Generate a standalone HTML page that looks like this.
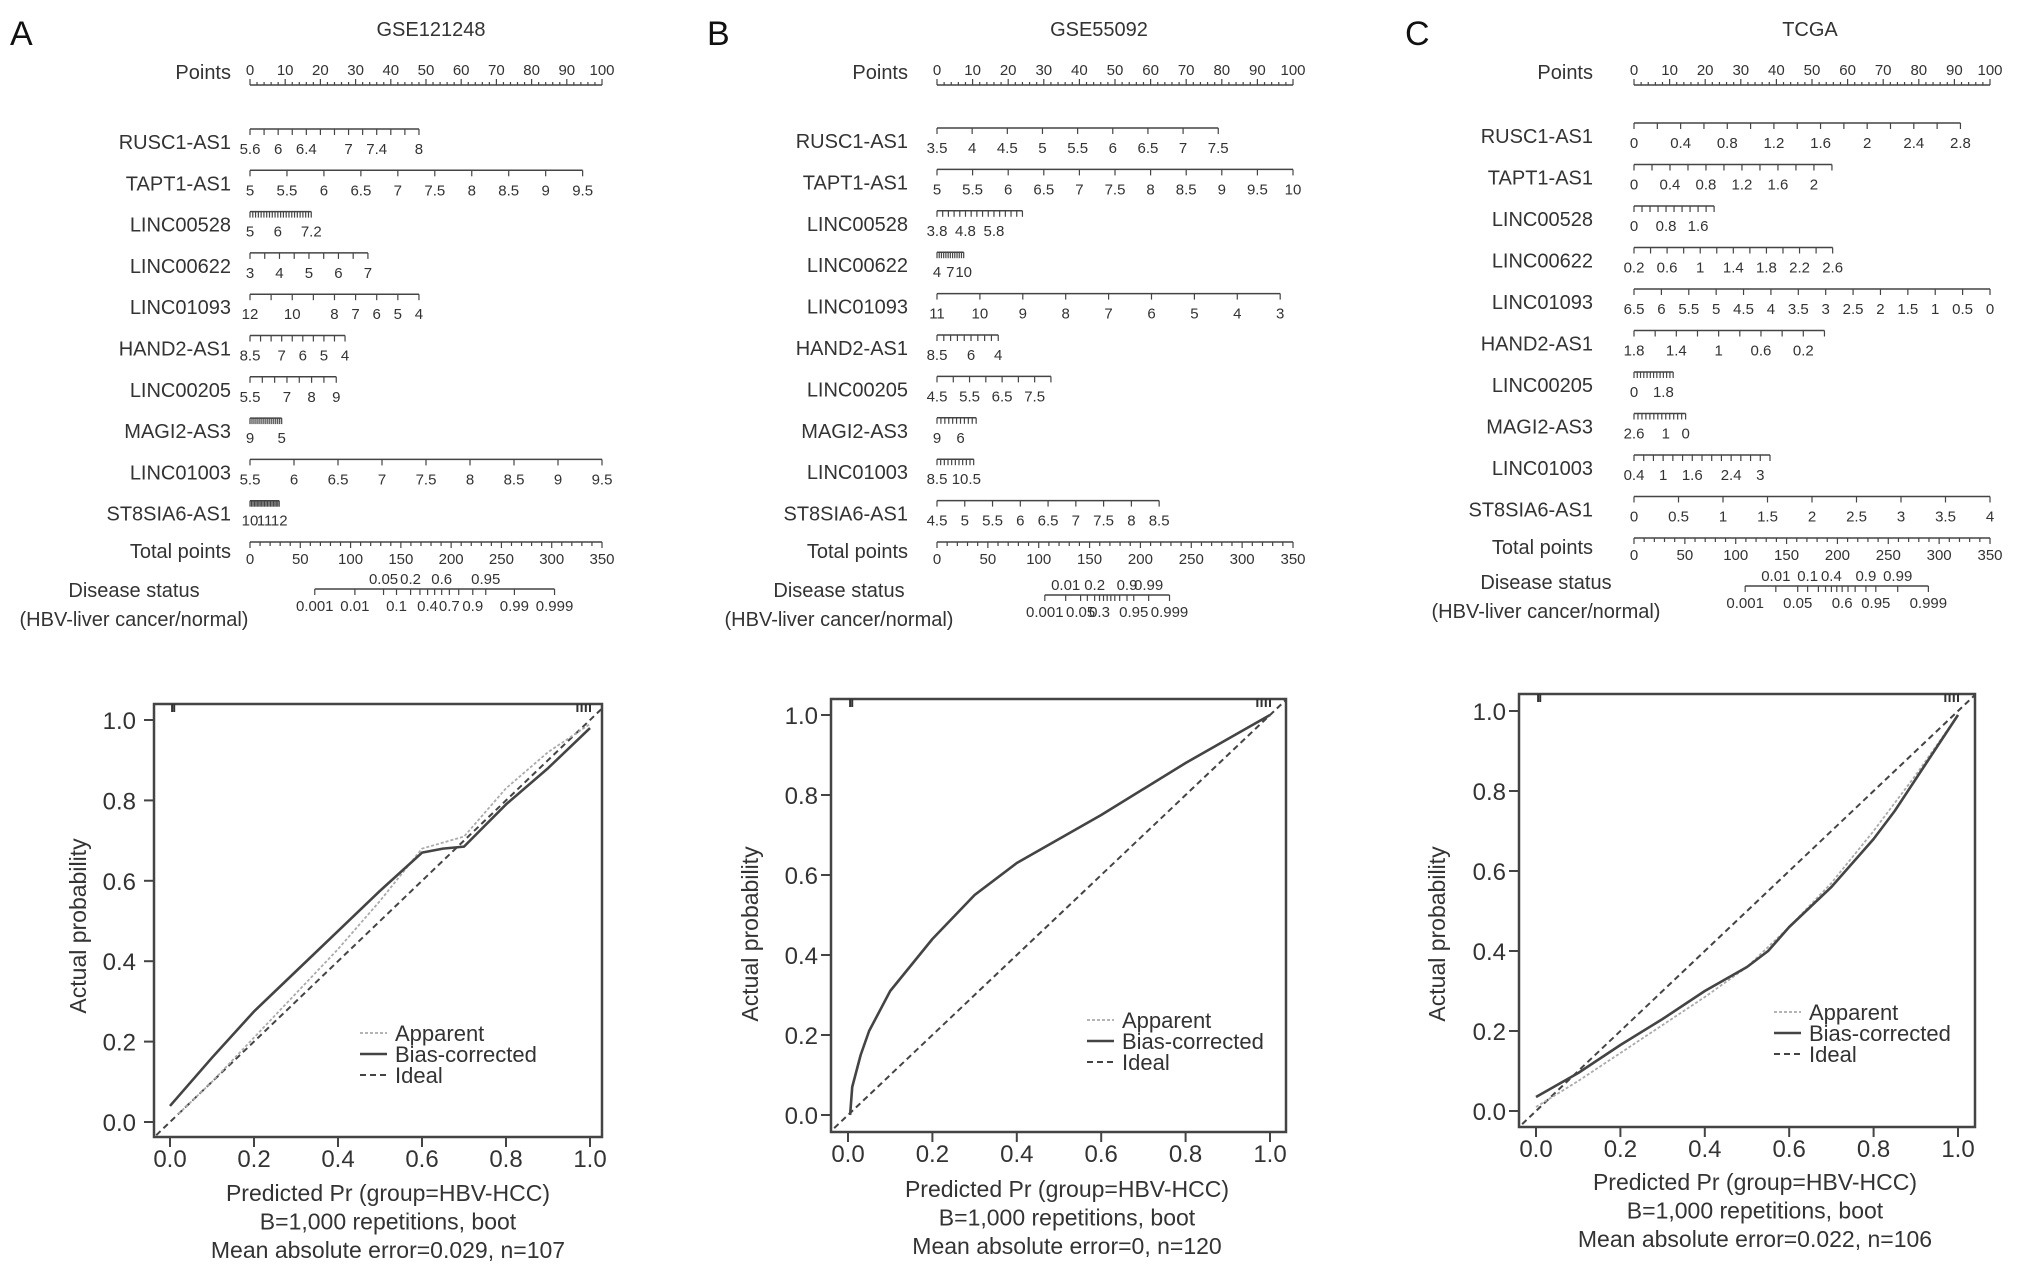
<!DOCTYPE html>
<html><head><meta charset="utf-8"><style>
html,body{margin:0;padding:0;background:#fff;}
svg{display:block;font-family:"Liberation Sans",Arial,sans-serif;}
</style></head><body>
<svg id="fig" width="2032" height="1275" viewBox="0 0 2032 1275" xmlns="http://www.w3.org/2000/svg"></svg>
<script>
// ---------- Data ----------
const rowNames = ["RUSC1-AS1","TAPT1-AS1","LINC00528","LINC00622","LINC01093","HAND2-AS1","LINC00205","MAGI2-AS3","LINC01003","ST8SIA6-AS1"];
// Panel A nomogram
const A_start = [5.6,5,5,3,12,8.5,5.5,9,5.5,10];
const A_end   = [8,9.5,7.2,7,4,4,9,5,9.5,12];
const A_endPts= [48,94.5,17.4,33.5,48,27,24.5,9,100,8.3];
const A_step  = [0.2,0.5,0.1,0.5,1,0.5,0.5,0.25,0.5,0.1];
const A_labels= [[5.6,6,6.4,7,7.4,8],[5,5.5,6,6.5,7,7.5,8,8.5,9,9.5],[5,6,7.2],[3,4,5,6,7],[12,10,8,7,6,5,4],[8.5,7,6,5,4],[5.5,7,8,9],[9,5],[5.5,6,6.5,7,7.5,8,8.5,9,9.5],[10,11,12]];
const A_probTop = [0.05,0.2,0.6,0.95];
const A_probBot = [0.001,0.01,0.1,0.4,0.7,0.9,0.99,0.999];
const A_probLo = 64.4, A_probHi = 302.8;
// Panel B nomogram
const B_start = [3.5,5,3.8,4,11,8.5,4.5,9,8.5,4.5];
const B_end   = [7.5,10,6.8,10,3,4,8,4,11,8.5];
const B_endPts= [79,100,24,7.5,96.4,17.2,32,11,10.3,62.4];
const B_step  = [0.5,0.5,0.2,0.5,1,0.5,0.5,0.5,0.25,0.5];
const B_labels= [[3.5,4,4.5,5,5.5,6,6.5,7,7.5],[5,5.5,6,6.5,7,7.5,8,8.5,9,9.5,10],[3.8,4.8,5.8],[4,7,10],[11,10,9,8,7,6,5,4,3],[8.5,6,4],[4.5,5.5,6.5,7.5],[9,6],[8.5,10.5],[4.5,5,5.5,6,6.5,7,7.5,8,8.5]];
const B_probTop = [0.01,0.2,0.9,0.99];
const B_probBot = [0.001,0.05,0.3,0.95,0.999];
const B_probLo = 106, B_probHi = 228.6;
// Panel C nomogram
const C_start = [0,0,0,0.2,6.5,1.8,0,2.6,0.4,0];
const C_end   = [2.8,2.2,2,2.6,0,0,2.4,0,3.2,4];
const C_endPts= [91.7,55.6,22.5,55.8,100,53.5,11,14.5,38.2,100];
const C_step  = [0.2,0.2,0.2,0.2,0.5,0.2,0.2,0.2,0.2,0.5];
const C_labels= [[0,0.4,0.8,1.2,1.6,2,2.4,2.8],[0,0.4,0.8,1.2,1.6,2],[0,0.8,1.6],[0.2,0.6,1,1.4,1.8,2.2,2.6],[6.5,6,5.5,5,4.5,4,3.5,3,2.5,2,1.5,1,0.5,0],[1.8,1.4,1,0.6,0.2],[0,1.8],[2.6,1,0],[0.4,1,1.6,2.4,3],[0,0.5,1,1.5,2,2.5,3,3.5,4]];
const C_probTop = [0.01,0.1,0.4,0.9,0.99];
const C_probBot = [0.001,0.05,0.6,0.95,0.999];
const C_probLo = 109.3, C_probHi = 289.4;
const probTicks = [0.001,0.01,0.05,0.1,0.2,0.3,0.4,0.5,0.6,0.7,0.8,0.9,0.95,0.99,0.999];
const pointLabels = [0,10,20,30,40,50,60,70,80,90,100];
const totalLabels = [0,50,100,150,200,250,300,350];
// Calibration data
const A_biasX = [0,0.05,0.1,0.2,0.3,0.4,0.5,0.6,0.65,0.7,0.8,0.9,1.0];
const A_biasY = [0.04,0.1,0.16,0.275,0.375,0.475,0.575,0.67,0.68,0.685,0.79,0.88,0.98];
const A_appX  = [0.02,0.1,0.2,0.3,0.4,0.5,0.6,0.7,0.8,0.9,1.0];
const A_appY  = [0.02,0.1,0.21,0.32,0.43,0.55,0.68,0.71,0.83,0.92,0.99];
const B_biasX = [0.005,0.01,0.03,0.05,0.1,0.2,0.3,0.4,0.5,0.6,0.7,0.8,0.9,1.0];
const B_biasY = [0.0,0.07,0.15,0.21,0.31,0.44,0.55,0.63,0.69,0.75,0.815,0.88,0.94,1.0];
const B_appX  = B_biasX;
const B_appY  = B_biasY;
const C_biasX = [0,0.1,0.2,0.3,0.4,0.5,0.55,0.6,0.7,0.8,0.85,0.9,0.95,1.0];
const C_biasY = [0.035,0.095,0.165,0.23,0.3,0.36,0.4,0.46,0.56,0.68,0.75,0.83,0.91,0.99];
const C_appX  = [0,0.1,0.2,0.3,0.4,0.5,0.6,0.7,0.8,0.9,1.0];
const C_appY  = [0.01,0.075,0.145,0.215,0.285,0.36,0.46,0.57,0.7,0.84,0.99];
const calTicks = [0,0.2,0.4,0.6,0.8,1.0];

// ---------- Drawing ----------
const NS="http://www.w3.org/2000/svg";
const svg=document.getElementById('fig');
function mk(tag,attrs,parent){const e=document.createElementNS(NS,tag);for(const k in attrs)e.setAttribute(k,attrs[k]);(parent||svg).appendChild(e);return e;}
function txt(s,x,y,size,anchor,parent,extra){const t=mk('text',Object.assign({x:x,y:y,'font-size':size,'text-anchor':anchor||'middle',fill:'#333'},extra||{}),parent);t.textContent=s;return t;}
function fmt(v){return String(+v.toFixed(3));}
const logit=p=>Math.log(p/(1-p));

function nomogram(g, letter,title, geo, start,end,endPts,step,labels,probTop,probBot,probLo,probHi){
  const pts=p=>geo.x0+(geo.x1-geo.x0)*p/100;
  const lt=txt(letter,geo.letterX,45,34,'start',g,{fill:'#111'});
  
  
  const tt=txt(title,geo.titleX,36,20,'middle',g);
  
  
  const pg=mk('g',{},g);
  
  
  txt('Points',geo.labelR,geo.pY-6,20,'end',pg);
  mk('line',{x1:pts(0),x2:pts(100),y1:geo.pY,y2:geo.pY,stroke:'#444','stroke-width':1.5},pg);
  for(let i=0;i<=100;i+=2){mk('line',{x1:pts(i),x2:pts(i),y1:geo.pY,y2:geo.pY-(i%10==0?6:3),stroke:'#444','stroke-width':1.2},pg);}
  pointLabels.forEach(v=>txt(String(v),pts(v),geo.pY-10,15,'middle',pg));
  for(let r=0;r<10;r++){
    const y=geo.r0+geo.rs*r;
    const rg=mk('g',{},g);
    
    
    txt(rowNames[r],geo.labelR,y+20,20,'end',rg);
    const vx=v=>pts((v-start[r])/(end[r]-start[r])*endPts[r]);
    mk('line',{x1:pts(0),x2:pts(endPts[r]),y1:y,y2:y,stroke:'#444','stroke-width':1.5},rg);
    const n=Math.round(Math.abs(end[r]-start[r])/step[r]);
    const dir=end[r]>start[r]?1:-1;
    for(let i=0;i<=n;i++){const v=start[r]+dir*i*step[r];mk('line',{x1:vx(v),x2:vx(v),y1:y,y2:y+6,stroke:'#444','stroke-width':1.2},rg);}
    labels[r].forEach(v=>txt(fmt(v),vx(v),y+25,15,'middle',rg));
  }
  const ty=geo.r0+geo.rs*10;
  const tg=mk('g',{},g);
  
  
  const tp=v=>pts(v/350*100);
  txt('Total points',geo.labelR,ty+16,20,'end',tg);
  mk('line',{x1:tp(0),x2:tp(350),y1:ty,y2:ty,stroke:'#444','stroke-width':1.5},tg);
  for(let v=0;v<=350;v+=10){mk('line',{x1:tp(v),x2:tp(v),y1:ty,y2:ty+(v%50==0?6:4),stroke:'#444','stroke-width':1.2},tg);}
  totalLabels.forEach(v=>txt(String(v),tp(v),ty+22,15,'middle',tg));
  const dg=mk('g',{},g);
  
  
  const c=(probLo+probHi)/2, s=(probHi-probLo)/(2*logit(0.999));
  const px=p=>tp(c+s*logit(p));
  mk('line',{x1:px(0.001),x2:px(0.999),y1:geo.dY,y2:geo.dY,stroke:'#444','stroke-width':1.5},dg);
  probTicks.forEach(p=>mk('line',{x1:px(p),x2:px(p),y1:geo.dY,y2:geo.dY+6,stroke:'#444','stroke-width':1.2},dg));
  probTop.forEach(p=>txt(fmt(p),px(p),geo.dY-5,15,'middle',dg));
  probBot.forEach(p=>txt(fmt(p),px(p),geo.dY+22,15,'middle',dg));
  txt('Disease status',geo.dsX,geo.dsY,20,'middle',dg);
  txt('(HBV-liver cancer/normal)',geo.dsX,geo.dsY+29,20,'middle',dg);
}

function calib(g,geo,biasX,biasY,appX,appY,mae,n){
  const X=v=>geo.x0+(geo.x1-geo.x0)*v, Y=v=>geo.y0+(geo.y1-geo.y0)*v;
  const cid='clip'+geo.x0;
  const cp=mk('clipPath',{id:cid},g);mk('rect',{x:geo.bx0,y:geo.by0,width:geo.bx1-geo.bx0,height:geo.by1-geo.by0},cp);
  const box=mk('rect',{x:geo.bx0,y:geo.by0,width:geo.bx1-geo.bx0,height:geo.by1-geo.by0,fill:'none',stroke:'#444','stroke-width':2.5},g);
  
  
  const xa=mk('g',{},g);
  
  
  const ya=mk('g',{},g);
  
  
  calTicks.forEach(v=>{
    mk('line',{x1:X(v),x2:X(v),y1:geo.by1,y2:geo.by1+10,stroke:'#444','stroke-width':2},xa);
    txt(v.toFixed(1),X(v),geo.xl,24,'middle',xa);
    mk('line',{x1:geo.bx0,x2:geo.bx0-10,y1:Y(v),y2:Y(v),stroke:'#444','stroke-width':2},ya);
    txt(v.toFixed(1),geo.ylR,Y(v)+9,24,'end',ya);
  });
  const yt=txt('Actual probability',geo.ytX,geo.ytY,23,'middle',g,{transform:`rotate(-90 ${geo.ytX} ${geo.ytY})`});
  
  
  const cx=(geo.x0+geo.x1)/2+8;
  const xt=txt('Predicted Pr (group=HBV-HCC)',cx,geo.t1,23,'middle',g);
  
  
  const st=txt('B=1,000 repetitions, boot',cx,geo.t1+28.5,23,'middle',g);
  
  
  const me=txt('Mean absolute error='+mae+', n='+n,cx,geo.t1+57,23,'middle',g);
  
  
  const lines=mk('g',{'clip-path':`url(#${cid})`},g);
  const ideal=mk('line',{x1:X(-0.05),y1:Y(-0.05),x2:X(1.05),y2:Y(1.05),stroke:'#444','stroke-width':2,'stroke-dasharray':'6,4'},lines);
  
  
  const app=mk('polyline',{points:appX.map((v,i)=>X(v)+','+Y(appY[i])).join(' '),fill:'none',stroke:'#aaa','stroke-width':1.8,'stroke-dasharray':'3,2'},lines);
  
  
  const bias=mk('polyline',{points:biasX.map((v,i)=>X(v)+','+Y(biasY[i])).join(' '),fill:'none',stroke:'#444','stroke-width':2.6,'stroke-linejoin':'round'},lines);
  
  
  [0.005,0.01,0.97,0.98,0.99,1.0].forEach(v=>mk('line',{x1:X(v),x2:X(v),y1:geo.by0,y2:geo.by0+8,stroke:'#333','stroke-width':2},g));
  const lg=mk('g',{},g);
  
  
  const L=[['Apparent','#aaa','3,2',1.8],['Bias-corrected','#444','',2.6],['Ideal','#444','6,4',2]];
  L.forEach((e,i)=>{const y=geo.ly+i*21;
    mk('line',{x1:geo.lx,x2:geo.lx+27,y1:y,y2:y,stroke:e[1],'stroke-width':e[3],'stroke-dasharray':e[2]},lg);
    txt(e[0],geo.lx+35,y+8,22,'start',lg);});
}

const gA=mk('g',{});
const gB=mk('g',{});
const gC=mk('g',{});

nomogram(gA,'A','GSE121248',{x0:250,x1:602,pY:85,r0:129,rs:41.3,dY:589,dsY:597,labelR:231,titleX:431,letterX:10,dsX:134},A_start,A_end,A_endPts,A_step,A_labels,A_probTop,A_probBot,A_probLo,A_probHi);
nomogram(gB,'B','GSE55092',{x0:937,x1:1293,pY:85,r0:128,rs:41.4,dY:595,dsY:597,labelR:908,titleX:1099,letterX:707,dsX:839},B_start,B_end,B_endPts,B_step,B_labels,B_probTop,B_probBot,B_probLo,B_probHi);
nomogram(gC,'C','TCGA',{x0:1634,x1:1990,pY:85,r0:123,rs:41.5,dY:586,dsY:589,labelR:1593,titleX:1810,letterX:1405,dsX:1546},C_start,C_end,C_endPts,C_step,C_labels,C_probTop,C_probBot,C_probLo,C_probHi);

calib(gA,{bx0:154,by0:704,bx1:602,by1:1137,x0:170,x1:590,y0:1122,y1:720,xl:1167,ylR:136,ytX:86,ytY:926,t1:1201,lx:360,ly:1033},A_biasX,A_biasY,A_appX,A_appY,'0.029',107);
calib(gB,{bx0:831,by0:699,bx1:1286,by1:1132,x0:848,x1:1270,y0:1115,y1:715,xl:1162,ylR:818,ytX:758,ytY:934,t1:1197,lx:1087,ly:1020},B_biasX,B_biasY,B_appX,B_appY,'0',120);
calib(gC,{bx0:1519,by0:694,bx1:1975,by1:1127,x0:1536,x1:1958,y0:1111,y1:711,xl:1157,ylR:1506,ytX:1445,ytY:934,t1:1190,lx:1774,ly:1012},C_biasX,C_biasY,C_appX,C_appY,'0.022',106);
</script>
</body></html>
